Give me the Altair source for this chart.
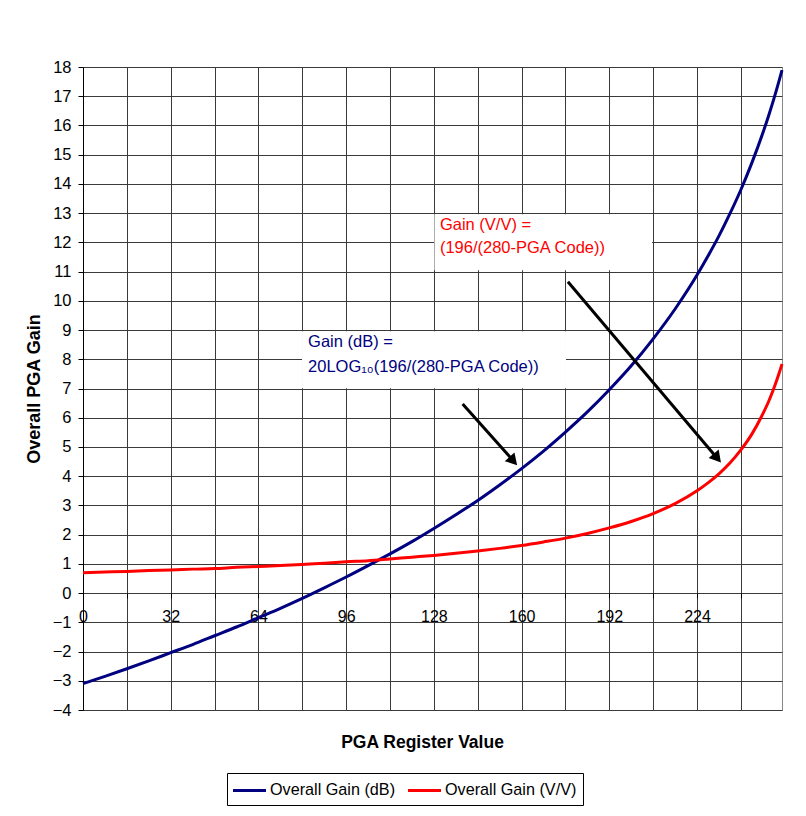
import altair as alt
import pandas as pd

FONT = "Liberation Sans, Arial, sans-serif"

# ---- data ----
codes = [0, 8, 16, 24, 32, 40, 48, 56, 64, 72, 80, 88, 96, 104, 112, 120, 128,
         136, 144, 152, 160, 168, 176, 184, 192, 200, 208, 216, 224, 228, 232,
         236, 240, 244, 248, 250, 252, 254, 255]
gain_db = [-3.10, -2.85, -2.59, -2.32, -2.04, -1.76, -1.46, -1.16, -0.84, -0.52,
           -0.18, 0.18, 0.55, 0.94, 1.34, 1.76, 2.21, 2.68, 3.17, 3.70,
           4.26, 4.86, 5.51, 6.20, 6.96, 7.78, 8.70, 9.72, 10.88,
           11.53, 12.22, 12.98, 13.80, 14.72, 15.74, 16.30, 16.90, 17.55, 17.89]
gain_vv = [0.70, 0.72, 0.74, 0.77, 0.79, 0.82, 0.84, 0.88, 0.91, 0.94,
           0.98, 1.02, 1.07, 1.11, 1.17, 1.23, 1.29, 1.36, 1.44, 1.53,
           1.63, 1.75, 1.88, 2.04, 2.23, 2.45, 2.72, 3.06, 3.50,
           3.77, 4.08, 4.45, 4.90, 5.44, 6.13, 6.53, 7.00, 7.54, 7.84]
series_names = ["Overall Gain (dB)", "Overall Gain (V/V)"]
series_colors = ["#000080", "#FF0000"]

x_grid_values = list(range(0, 256, 16))
y_tick_values = list(range(-4, 19))

# annotation boxes (data coordinates)
box_x1 = [128.2, 79.9]
box_x2 = [207.6, 176.2]
box_y1 = [12.96, 8.96]
box_y2 = [11.05, 7.01]

vv_text = ["Gain (V/V) =", "(196/(280-PGA Code))"]
vv_text_x = [130.2, 130.2]
vv_text_y = [12.59, 11.80]
db_text = ["Gain (dB) =", "20LOG\u2081\u2080(196/(280-PGA Code))"]
db_text_x = [82.1, 82.1]
db_text_y = [8.60, 7.74]

# arrows: shaft start -> shaft end, head position and angle
arrow_x = [138.5, 176.9]
arrow_y = [6.47, 10.65]
arrow_x2 = [156.3, 230.6]
arrow_y2 = [4.60, 4.70]
head_x = [157.0, 231.4]
head_y = [4.52, 4.62]
head_angle = [138, 140]

# ---- tables ----
df = pd.DataFrame({
    "code": codes * 2,
    "gain": gain_db + gain_vv,
    "series": [series_names[0]] * len(codes) + [series_names[1]] * len(codes),
})
boxes = pd.DataFrame({"x1": box_x1, "x2": box_x2, "y1": box_y1, "y2": box_y2})
vv_df = pd.DataFrame({"x": vv_text_x, "y": vv_text_y, "t": vv_text})
db_df = pd.DataFrame({"x": db_text_x, "y": db_text_y, "t": db_text})
arr_df = pd.DataFrame({"x": arrow_x, "y": arrow_y, "x2": arrow_x2, "y2": arrow_y2})
head_df = pd.DataFrame({"x": head_x, "y": head_y, "a": head_angle})

xscale = alt.Scale(domain=[0, 255], nice=False, zero=False)
yscale = alt.Scale(domain=[-4, 18], nice=False, zero=False)

x_axis = alt.Axis(
    values=x_grid_values,
    labelExpr="datum.value % 32 == 0 && datum.value <= 224 ? datum.label : ''",
    offset=-117,
    domain=False,
    ticks=True, tickSize=5, tickColor="black",
    labelPadding=10, labelFontSize=16, labelFont=FONT, labelColor="black",
    labelOverlap=False, labelFlush=False,
    grid=True, gridColor="#3a3a3a", gridWidth=1,
    title="PGA Register Value", titleFont=FONT, titleFontSize=17.5,
    titleFontWeight="bold", titleColor="black",
    titleX=339, titleY=149, titleBaseline="middle",
)
y_axis = alt.Axis(
    values=y_tick_values,
    domain=True, domainColor="black", domainWidth=1,
    ticks=True, tickSize=5, tickColor="black",
    labelPadding=7, labelFontSize=16.5, labelFont=FONT, labelColor="black",
    labelOverlap=False,
    grid=True, gridColor="#3a3a3a", gridWidth=1,
    title="Overall PGA Gain", titleFont=FONT, titleFontSize=18,
    titleFontWeight="bold", titleColor="black", titlePadding=9,
)


def X(field):
    return alt.X(field, type="quantitative", scale=xscale, axis=x_axis)


def Y(field):
    return alt.Y(field, type="quantitative", scale=yscale, axis=y_axis)


lines = alt.Chart(df).mark_line(strokeWidth=3, interpolate="monotone").encode(
    x=X("code"),
    y=Y("gain"),
    color=alt.Color(
        "series:N",
        scale=alt.Scale(domain=series_names, range=series_colors),
        legend=alt.Legend(
            title=None, orient="none", legendX=144, legendY=706,
            direction="horizontal", strokeColor="black", padding=6,
            symbolType="M-1.158,0H2.316", symbolSize=361, symbolStrokeWidth=3,
            labelFont=FONT, labelFontSize=16.2, labelColor="black",
            labelOffset=15, columnPadding=5, fillColor="white",
        ),
    ),
)

rects = alt.Chart(boxes).mark_rect(fill="white", stroke=None).encode(
    x=X("x1"), x2="x2:Q", y=Y("y1"), y2="y2:Q",
)

vv_txt = alt.Chart(vv_df).mark_text(
    align="left", baseline="middle", font=FONT, fontSize=16.5, color="#FF0000"
).encode(x=X("x"), y=Y("y"), text="t:N")
db_txt = alt.Chart(db_df).mark_text(
    align="left", baseline="middle", font=FONT, fontSize=16.5, color="#000080"
).encode(x=X("x"), y=Y("y"), text="t:N")

shafts = alt.Chart(arr_df).mark_rule(color="black", strokeWidth=3).encode(
    x=X("x"), y=Y("y"), x2="x2:Q", y2="y2:Q"
)
heads = alt.Chart(head_df).mark_point(
    shape="triangle-up", filled=True, color="black", size=170, opacity=1
).encode(
    x=X("x"), y=Y("y"),
    angle=alt.Angle("a:Q", scale=None),
)

chart = alt.layer(lines, rects, vv_txt, db_txt, shafts, heads).properties(
    width=699, height=643,
    autosize=alt.AutoSizeParams(type="none"),
    padding={"left": 75, "top": 59, "right": 16, "bottom": 98},
    background="white",
).configure_view(stroke="#888", strokeWidth=1)

chart.save("out.html", embed_options={"renderer": "svg", "actions": False})
